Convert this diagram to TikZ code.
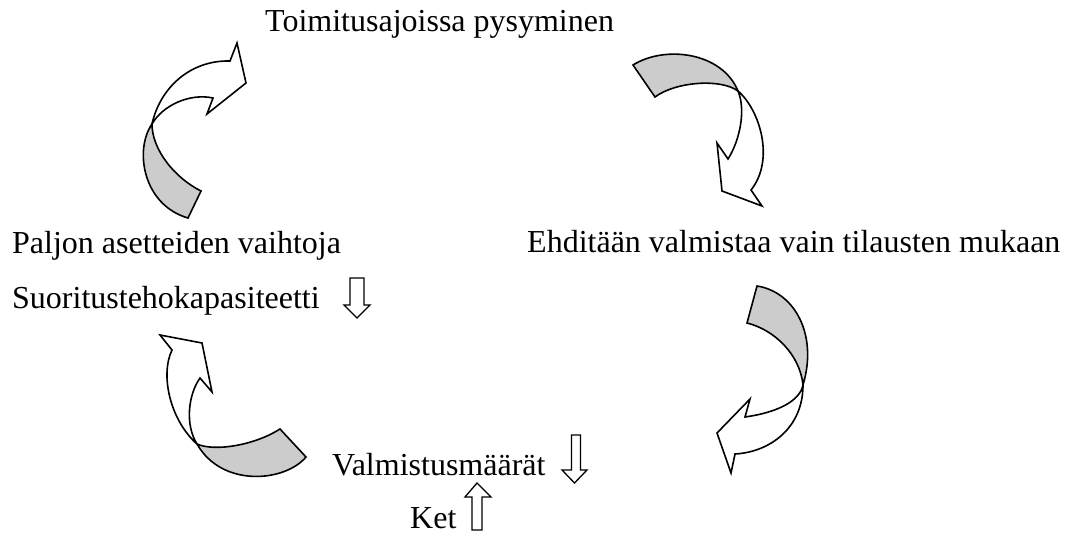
\documentclass[tikz,border=0pt]{standalone}
\usepackage{fontspec}
\setmainfont{Liberation Serif}
\begin{document}
\begin{tikzpicture}[x=1pt,y=-1pt,
  outline/.style={draw=black,line width=1.6pt,line join=miter},
  band/.style={outline,fill=white},
  underside/.style={outline,fill=black!20},
  blockarrow/.style={draw=black,line width=1.3pt,fill=white},
  label/.style={anchor=base west,inner sep=0pt,font=\fontsize{32}{38}\selectfont}]
\useasboundingbox (0,0) rectangle (1078,535);

% texts
\node[label] (toim) at (265,32) {Toimitusajoissa pysyminen};
\node[label] (ehd)  at (527,252) {Ehditään valmistaa vain tilausten mukaan};
\node[label] (palj) at (12,253) {Paljon asetteiden vaihtoja};
\node[label] (suor) at (12,308) {Suoritustehokapasiteetti};
\node[label] (valm) at (332,475) {Valmistusmäärät};
\node[label] (ket)  at (410,528) {Ket};

% curved arrow, upper left (pointing up towards the top text)
\path[underside] (152,124) .. controls (134,150) and (143,205) .. (188,218)
  -- (201,191) .. controls (175,178) and (152,150) .. (152,124) -- cycle;
\path[band] (213,98) .. controls (190,93) and (163,105) .. (152,124)
  .. controls (160,88) and (190,60) .. (230,61)
  -- (237,43) -- (246,83) -- (207,114) -- cycle;

% curved arrow, upper right
\path[underside] (633,65) .. controls (665,45) and (722,52) .. (738,91)
  .. controls (720,78) and (675,82) .. (655,97) -- cycle;
\path[band] (738,91) .. controls (760,110) and (775,160) .. (751,190)
  -- (762,206) -- (722,191) -- (717,143) -- (728,159)
  .. controls (740,140) and (746,110) .. (738,91) -- cycle;

% curved arrow, lower right
\path[underside] (757,286) .. controls (795,292) and (818,335) .. (803,385)
  .. controls (800,355) and (775,330) .. (747,323) -- cycle;
\path[band] (803,385) .. controls (800,400) and (780,412) .. (745,417)
  -- (750,399) -- (717,433) -- (731,473) -- (735,454)
  .. controls (770,452) and (803,428) .. (803,385) -- cycle;

% curved arrow, lower left
\path[underside] (280,429) -- (306,457) .. controls (285,482) and (222,488) .. (197,444)
  .. controls (215,452) and (255,445) .. (280,429) -- cycle;
\path[band] (197,444) .. controls (170,420) and (160,375) .. (172,350)
  -- (160,335) -- (202,343) -- (212,392) -- (200,378)
  .. controls (188,395) and (185,425) .. (197,444) -- cycle;

% small block arrows
\path[blockarrow] (350,278) -- (364,278) -- (364,305) -- (370,305)
  -- (357,318) -- (344,305) -- (350,305) -- cycle;
\path[blockarrow] (571.5,435) -- (580.5,435) -- (580.5,470) -- (587,470)
  -- (574.5,483) -- (562,470) -- (571.5,470) -- cycle;
\path[blockarrow] (472,530) -- (482,530) -- (482,497) -- (491,497)
  -- (477,483) -- (465,497) -- (472,497) -- cycle;
\end{tikzpicture}
\end{document}
